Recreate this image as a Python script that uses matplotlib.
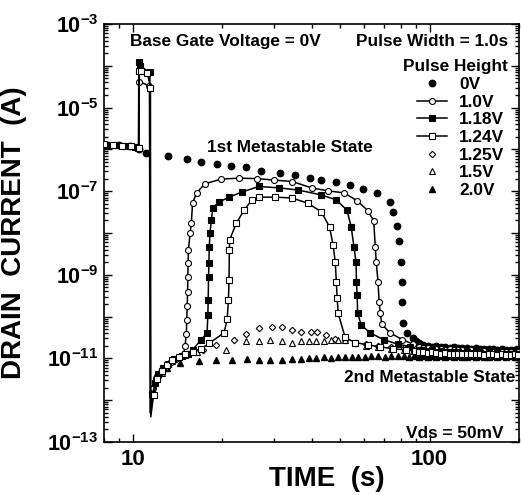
import numpy as np
import matplotlib
matplotlib.use("Agg")
import matplotlib.pyplot as plt
from matplotlib.ticker import LogLocator, FixedLocator, FuncFormatter, NullFormatter
from matplotlib.lines import Line2D

plt.rcParams['font.family'] = ['Liberation Sans', 'DejaVu Sans']
plt.rcParams['font.weight'] = 'bold'
plt.rcParams['mathtext.fontset'] = 'custom'
plt.rcParams['mathtext.rm'] = 'Liberation Sans:bold'
plt.rcParams['mathtext.it'] = 'Liberation Sans:bold'
plt.rcParams['mathtext.bf'] = 'Liberation Sans:bold'

# ---- data (time in s, drain current in A) ----
# shared sampling of the long tail (2nd metastable state)
tail_t = [92, 95, 98.5, 102, 105, 109, 113, 117, 121, 125, 129, 134, 138, 143, 148, 153, 158,
          164, 169, 175, 181, 188, 194, 199]

# 0V : no pulse, slow decay of the 1st metastable state
t_0v = [8.2, 9.0, 9.8, 10.5, 11.1, 13.1, 15.2, 17.0, 19.2, 21.4, 24.1, 27.0, 31.3, 35.1, 39.4,
        43.2, 48.5, 54.0, 59.7, 66.5, 73.5, 75.2, 77.6, 78.7, 79.8, 80.5, 81.0, 81.4, 83.8, 87.7, 90.0]
I_0v = [1.3e-6, 1.25e-6, 1.2e-6, 1.0e-6, 8.1e-7, 6.9e-7, 5.9e-7, 5.0e-7, 4.5e-7, 4.0e-7, 3.8e-7,
        3.0e-7, 2.75e-7, 2.45e-7, 2.1e-7, 1.86e-7, 1.66e-7, 1.41e-7, 1.12e-7, 9.1e-8, 5.5e-8, 3.2e-8,
        1.5e-8, 6.5e-9, 2.0e-9, 6.8e-10, 2.2e-10, 7.1e-11, 4.1e-11, 3.1e-11, 2.6e-11]
tail_0v = [2.3e-11, 2.1e-11, 2.0e-11, 1.9e-11, 2.0e-11, 1.85e-11, 1.9e-11, 1.8e-11, 1.85e-11,
           1.75e-11, 1.8e-11, 1.75e-11, 1.7e-11, 1.75e-11, 1.7e-11, 1.65e-11, 1.7e-11, 1.65e-11,
           1.6e-11, 1.65e-11, 1.6e-11, 1.6e-11, 1.55e-11, 1.6e-11]

# 1.0V
t_10 = [8.3, 8.9, 9.6, 10.3, 10.47, 10.5, 11.38, 11.45,
        11.7, 12.0, 12.4, 12.9, 13.5, 14.2, 14.8,
        15.0, 15.15, 15.2, 15.25, 15.3, 15.33, 15.36, 15.4, 15.6, 15.75, 15.9, 16.4, 17.5, 19.85,
        22.8, 26.2, 29.9, 34.5, 40.0, 45.5, 51.5, 57.0, 62.0, 64.8, 65.6, 66.1, 67.0, 67.6, 68.2,
        69.0, 73.5, 81.0, 88.0]
I_10 = [1.3e-6, 1.25e-6, 1.2e-6, 1.15e-6, 1.1e-6, 4.2e-5, 3.3e-5, 5e-13,
        2.0e-12, 3.3e-12, 4.8e-12, 6.3e-12, 8.0e-12, 1.0e-11, 1.2e-11,
        2.0e-11, 3.8e-11, 8.3e-11, 1.8e-10, 3.9e-10, 8.9e-10, 1.9e-9, 3.9e-9, 1.0e-8, 1.7e-8,
        5.2e-8, 9.1e-8, 1.5e-7, 1.95e-7, 2.05e-7, 2.0e-7, 1.85e-7, 1.7e-7, 1.2e-7, 1.02e-7,
        9.1e-8, 5.9e-8, 3.4e-8, 1.95e-8, 4.7e-9, 2.0e-9, 6.8e-10, 2.2e-10, 1.2e-10, 6.6e-11,
        4.1e-11, 2.8e-11, 2.2e-11]
tail_10 = [1.9e-11, 1.75e-11, 1.8e-11, 1.7e-11, 1.65e-11, 1.7e-11, 1.6e-11, 1.65e-11, 1.55e-11,
           1.6e-11, 1.55e-11, 1.5e-11, 1.55e-11, 1.5e-11, 1.45e-11, 1.5e-11, 1.45e-11, 1.45e-11,
           1.4e-11, 1.45e-11, 1.4e-11, 1.4e-11, 1.35e-11, 1.4e-11]

# 1.18V
t_118 = [8.1, 8.8, 9.5, 10.2, 10.45, 10.48, 10.55, 11.42, 11.47,
         11.65, 11.9, 12.2, 12.6, 13.1, 13.8, 14.6, 15.4, 15.9,
         17.0, 17.8, 17.9, 17.95, 18.0, 18.05, 18.1, 18.2, 18.4, 18.6, 19.5, 21.1, 23.3, 26.6,
         31.0, 36.1, 43.2, 48.5, 52.7, 54.4, 55.6, 56.5, 56.7, 57.0, 57.2, 58.8, 63.0, 70.0,
         78.0, 86.0]
I_118 = [1.3e-6, 1.25e-6, 1.2e-6, 1.15e-6, 1.1e-6, 1.2e-4, 1.0e-4, 7.0e-5, 5e-13,
         1.4e-12, 2.6e-12, 4.2e-12, 5.8e-12, 7.5e-12, 9.5e-12, 1.15e-11, 1.3e-11, 1.6e-11,
         2.8e-11, 4.1e-11, 1.1e-10, 2.5e-10, 8.9e-10, 1.9e-9, 4.5e-9, 1.0e-8, 2.0e-8, 4.0e-8,
         5.5e-8, 7.2e-8, 9.5e-8, 1.3e-7, 1.2e-7, 1.07e-7, 8.1e-8, 6.2e-8, 3.5e-8, 1.4e-8, 4.7e-9,
         2.0e-9, 6.8e-10, 3.3e-10, 1.2e-10, 6.3e-11, 4.1e-11, 2.8e-11, 2.2e-11, 1.9e-11]
tail_118 = [1.6e-11, 1.55e-11, 1.5e-11, 1.55e-11, 1.45e-11, 1.5e-11, 1.45e-11, 1.4e-11, 1.45e-11,
            1.4e-11, 1.35e-11, 1.4e-11, 1.35e-11, 1.4e-11, 1.35e-11, 1.3e-11, 1.35e-11, 1.3e-11,
            1.35e-11, 1.3e-11, 1.3e-11, 1.25e-11, 1.3e-11, 1.3e-11]

# 1.24V
t_124 = [8.0, 8.6, 9.2, 9.9, 10.5, 10.52, 10.7, 11.2, 11.47, 11.5,
         11.75, 12.1, 12.5, 13.0, 13.6, 14.3, 15.0, 15.9, 17.0, 18.1,
         20.3, 20.8, 21.0, 21.1, 21.15, 21.2, 22.3, 23.7, 25.2, 26.6, 30.1, 34.3, 38.8, 43.2,
         46.0, 47.3, 48.1, 48.5, 48.8, 49.2, 51.9, 56.0, 62.0, 68.0, 75.0, 83.0, 89.0]
I_124 = [1.35e-6, 1.25e-6, 1.2e-6, 1.2e-6, 1.1e-6, 7.6e-5, 7.6e-5, 6.8e-5, 3.0e-5, 4e-13,
         1.3e-12, 3.2e-12, 5.0e-12, 7.0e-12, 9.0e-12, 1.1e-11, 1.25e-11, 1.4e-11, 1.7e-11, 2.3e-11,
         4.1e-11, 8.7e-11, 2.5e-10, 7.6e-10, 3.9e-9, 6.8e-9, 1.7e-8, 3.5e-8, 6.2e-8, 7.2e-8,
         7.2e-8, 6.9e-8, 5.2e-8, 3.2e-8, 1.4e-8, 5.1e-9, 2.0e-9, 6.8e-10, 2.8e-10, 1.2e-10,
         3.2e-11, 2.4e-11, 2.1e-11, 1.9e-11, 1.7e-11, 1.6e-11, 1.5e-11]
tail_124 = [1.4e-11, 1.45e-11, 1.35e-11, 1.4e-11, 1.35e-11, 1.3e-11, 1.35e-11, 1.3e-11, 1.3e-11,
            1.25e-11, 1.3e-11, 1.25e-11, 1.3e-11, 1.25e-11, 1.25e-11, 1.2e-11, 1.25e-11, 1.25e-11,
            1.2e-11, 1.25e-11, 1.2e-11, 1.2e-11, 1.25e-11, 1.2e-11]

# 1.25V
t_125 = [12.2, 13.0, 14.0, 15.5, 17.2, 19.1, 21.9, 24.1, 26.6, 29.4, 31.7, 34.5, 37.0, 39.7,
         41.9, 44.6, 48.1, 51.9, 56.0, 61.0, 67.0, 74.0, 82.0, 89.0]
I_125 = [3.5e-12, 6.5e-12, 9.5e-12, 1.3e-11, 1.6e-11, 2.1e-11, 2.75e-11, 3.8e-11, 5.4e-11,
         5.6e-11, 5.6e-11, 4.8e-11, 4.3e-11, 4.3e-11, 4.3e-11, 3.6e-11, 2.9e-11, 2.75e-11,
         2.4e-11, 2.2e-11, 2.0e-11, 1.9e-11, 1.8e-11, 1.75e-11]
tail_125 = [1.7e-11, 1.75e-11, 1.65e-11, 1.7e-11, 1.6e-11, 1.65e-11, 1.6e-11, 1.55e-11, 1.6e-11,
            1.55e-11, 1.5e-11, 1.55e-11, 1.5e-11, 1.5e-11, 1.45e-11, 1.5e-11, 1.45e-11, 1.5e-11,
            1.45e-11, 1.45e-11, 1.4e-11, 1.45e-11, 1.4e-11, 1.45e-11]

# 1.5V
t_15 = [12.5, 13.6, 15.0, 16.5, 20.6, 24.1, 26.6, 29.1, 31.7, 34.3, 36.8, 39.1, 41.3, 44.2,
        46.6, 49.2, 51.9, 56.0, 61.0, 67.0, 74.0, 82.0, 88.0]
I_15 = [4.5e-12, 8.5e-12, 1.2e-11, 1.4e-11, 1.6e-11, 2.6e-11, 2.6e-11, 2.75e-11, 2.6e-11,
        2.3e-11, 2.6e-11, 2.6e-11, 2.6e-11, 2.6e-11, 2.75e-11, 2.75e-11, 2.8e-11, 2.3e-11,
        2.0e-11, 1.9e-11, 1.7e-11, 1.6e-11, 1.5e-11]
tail_15 = [1.3e-11, 1.35e-11, 1.3e-11, 1.25e-11, 1.3e-11, 1.25e-11, 1.3e-11, 1.2e-11, 1.25e-11,
           1.2e-11, 1.25e-11, 1.2e-11, 1.2e-11, 1.25e-11, 1.2e-11, 1.2e-11, 1.15e-11, 1.2e-11,
           1.2e-11, 1.15e-11, 1.2e-11, 1.15e-11, 1.2e-11, 1.15e-11]

# 2.0V
t_20 = [12.0, 13.0, 14.4, 16.7, 19.1, 21.6, 24.2, 26.6, 29.1, 31.7, 34.3, 36.8, 39.1, 41.3,
        44.2, 46.6, 49.2, 51.9, 54.9, 57.5, 60.6, 63.5, 67.0, 70.7, 74.0, 78.2, 82.0, 85.0, 88.5]
I_20 = [4e-12, 6e-12, 7.8e-12, 8.7e-12, 9.1e-12, 9.1e-12, 9.7e-12, 9.1e-12, 9.1e-12, 9.1e-12,
        9.7e-12, 9.7e-12, 1.0e-11, 1.0e-11, 1.07e-11, 1.0e-11, 1.07e-11, 1.07e-11, 1.07e-11,
        1.07e-11, 1.07e-11, 1.15e-11, 1.15e-11, 1.07e-11, 1.15e-11, 1.15e-11, 1.15e-11, 1.1e-11,
        1.15e-11]
tail_20 = [1.1e-11, 1.12e-11, 1.1e-11, 1.15e-11, 1.1e-11, 1.12e-11, 1.1e-11, 1.12e-11, 1.1e-11,
           1.15e-11, 1.1e-11, 1.1e-11, 1.12e-11, 1.1e-11, 1.12e-11, 1.1e-11, 1.1e-11, 1.12e-11,
           1.1e-11, 1.12e-11, 1.1e-11, 1.12e-11, 1.1e-11, 1.12e-11]

labels = ['0V', '1.0V', '1.18V', '1.24V', '1.25V', '1.5V', '2.0V']

# ---- figure ----
W, H = 521, 495
fig = plt.figure(figsize=(W / 100, H / 100), dpi=100)
ax = fig.add_axes([104 / W, (H - 442) / H, 415 / W, 418 / H])

# marker-only series
ax.plot(t_0v + tail_t, I_0v + tail_0v, ls='none', marker='o', ms=4.6, mfc='k', mec='k', zorder=3)
ax.plot(t_125 + tail_t, I_125 + tail_125, ls='none', marker='D', ms=3.3, mfc='white', mec='k', mew=0.8)
ax.plot(t_15 + tail_t, I_15 + tail_15, ls='none', marker='^', ms=4.0, mfc='white', mec='k', mew=0.8)
ax.plot(t_20 + tail_t, I_20 + tail_20, ls='none', marker='^', ms=4.0, mfc='k', mec='k')

# line + marker series (drop tip has no marker)
line_series = [
    (t_10, I_10, tail_10, 'o', 'white'),
    (t_118, I_118, tail_118, 's', 'k'),
    (t_124, I_124, tail_124, 's', 'white'),
]
for t, I, tail, mk, fc in line_series:
    tt = t + tail_t
    ii = I + tail
    tip = int(np.argmin(I))
    keep = [k for k in range(len(tt)) if k != tip]
    ax.plot(tt, ii, '-', color='k', lw=1.1, marker=mk, ms=4.3, mfc=fc, mec='k', mew=0.8,
            markevery=keep, zorder=4)

ax.set_xscale('log')
ax.set_yscale('log')
ax.set_xlim(8, 200)
ax.set_ylim(1e-13, 1e-3)

# ticks
ax.xaxis.set_major_locator(FixedLocator([10, 100]))
ax.xaxis.set_major_formatter(FuncFormatter(lambda v, p: '%d' % round(v)))
ax.xaxis.set_minor_locator(LogLocator(base=10, subs=np.arange(2, 10), numticks=20))
ax.xaxis.set_minor_formatter(NullFormatter())

ax.yaxis.set_major_locator(FixedLocator([10.0 ** e for e in range(-13, -2)]))


def ylab(v, p):
    e = int(round(np.log10(v)))
    return r'$10^{%d}$' % e if e % 2 != 0 else ''


ax.yaxis.set_major_formatter(FuncFormatter(ylab))
ax.yaxis.set_minor_locator(LogLocator(base=10, subs=np.arange(2, 10), numticks=30))
ax.yaxis.set_minor_formatter(NullFormatter())

ax.tick_params(which='both', direction='in', top=True, right=True, width=1.0)
ax.tick_params(which='major', length=6)
ax.tick_params(which='minor', length=3)
ax.tick_params(axis='x', labelsize=16, pad=5)
ax.tick_params(axis='y', labelsize=15.5, pad=4)
for s in ax.spines.values():
    s.set_linewidth(1.2)

ax.set_xlabel('TIME  (s)', fontsize=20, fontweight='bold')
ax.xaxis.set_label_coords(0.537, -0.058)
ax.set_ylabel('DRAIN  CURRENT  (A)', fontsize=20, fontweight='bold')
ax.yaxis.set_label_coords(-0.186, 0.5)

# annotations


def fx(px):
    return (px - 104) / 415


def fy(py):
    return (442 - py) / 418


fs = 12.4
ax.text(fx(130), fy(46), 'Base Gate Voltage = 0V', transform=ax.transAxes, fontsize=fs,
        fontweight='bold', ha='left', va='baseline')
ax.text(fx(508), fy(46), 'Pulse Width = 1.0s', transform=ax.transAxes, fontsize=fs,
        fontweight='bold', ha='right', va='baseline')
ax.text(fx(508), fy(71), 'Pulse Height', transform=ax.transAxes, fontsize=fs,
        fontweight='bold', ha='right', va='baseline')
ax.text(fx(207), fy(152), '1st Metastable State', transform=ax.transAxes, fontsize=fs,
        fontweight='bold', ha='left', va='baseline')
ax.text(fx(515), fy(382), '2nd Metastable State', transform=ax.transAxes, fontsize=fs,
        fontweight='bold', ha='right', va='baseline')
ax.text(fx(503), fy(438), 'Vds = 50mV', transform=ax.transAxes, fontsize=fs,
        fontweight='bold', ha='right', va='baseline')

# legend
handles = [
    Line2D([], [], ls='none', marker='o', ms=4.6, mfc='k', mec='k'),
    Line2D([], [], ls='-', color='k', lw=1.1, marker='o', ms=4.3, mfc='white', mec='k', mew=0.8),
    Line2D([], [], ls='-', color='k', lw=1.1, marker='s', ms=4.3, mfc='k', mec='k', mew=0.8),
    Line2D([], [], ls='-', color='k', lw=1.1, marker='s', ms=4.3, mfc='white', mec='k', mew=0.8),
    Line2D([], [], ls='none', marker='D', ms=3.3, mfc='white', mec='k', mew=0.8),
    Line2D([], [], ls='none', marker='^', ms=4.0, mfc='white', mec='k', mew=0.8),
    Line2D([], [], ls='none', marker='^', ms=4.0, mfc='k', mec='k'),
]
leg = ax.legend(handles, labels, loc='upper left', bbox_to_anchor=(fx(417), fy(77)),
                frameon=False, fontsize=fs, handlelength=1.74, handletextpad=0.7,
                labelspacing=0.15, borderpad=0, borderaxespad=0)

fig.savefig('out.png', dpi=100)
